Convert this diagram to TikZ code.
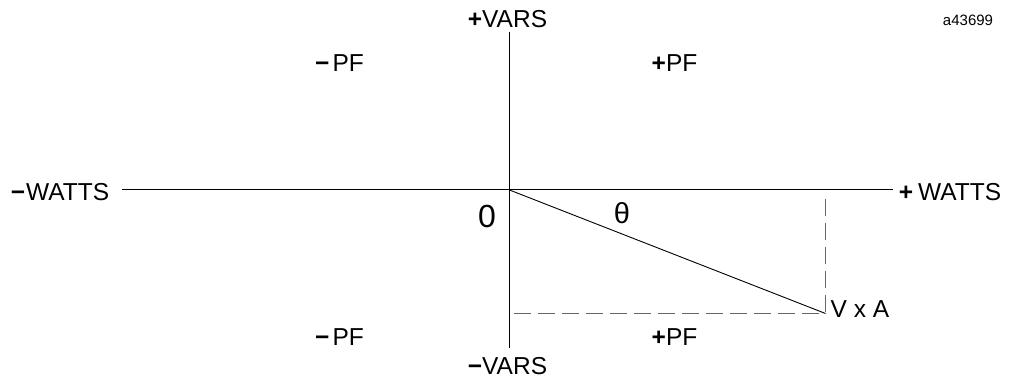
\documentclass[tikz,border=0pt]{standalone}
\usepackage{fontspec}
\setmainfont{Liberation Sans}
\begin{document}
\begin{tikzpicture}[x=1pt,y=-1pt,
  axis/.style={line width=1pt,black},
  guide/.style={line width=1.1pt,black!60,dash pattern=on 17pt off 7pt},
  lbl/.style={inner sep=0pt,font=\fontsize{24.5}{28}\selectfont}]
\useasboundingbox (0,0) rectangle (1009,379);
% coordinates
\coordinate (O) at (509.5,190);
\coordinate (vtop) at (509.5,32);
\coordinate (vbot) at (509.5,348);
\coordinate (hl) at (122,190);
\coordinate (hr) at (893,190);
\coordinate (P) at (825.5,313.5);
\coordinate (dtop) at (825.5,199);
\coordinate (dleft) at (514,313.5);
% axes
\draw[axis] (vtop) -- (vbot);
\draw[axis] (hl) -- (hr);
\draw[line width=0.9pt] (O) -- (P);
\draw[guide] (dtop) -- (P);
\draw[guide] (dleft) -- (P);
% labels
\node[lbl] (pv) at (507.5,19) {\textbf{+}VARS};
\node[lbl] (mv) at (507.5,366) {\textbf{−}VARS};
\node[lbl] (mw) at (60,192) {\textbf{−}\kern1pt WATTS};
\node[lbl] (pw) at (950,192) {\textbf{+}\kern5pt WATTS};
\node[lbl] (mpf1) at (339.5,63.5) {\textbf{−}\kern3pt PF};
\node[lbl] (ppf1) at (674.5,63.5) {\textbf{+}PF};
\node[lbl] (mpf2) at (339.5,337) {\textbf{−}\kern3pt PF};
\node[lbl] (ppf2) at (674.5,337) {\textbf{+}PF};
\node[lbl] (vxa) at (860,309.5) {V x A};
\node[lbl,font=\fontsize{32}{36}\selectfont] (zero) at (487,216.5) {0};
\node[lbl,font=\fontsize{29}{32}\selectfont] (theta) at (622,213.5) {θ};
\node[lbl,font=\fontsize{15}{18}\selectfont] (id) at (968,20) {a43699};
\end{tikzpicture}
\end{document}
